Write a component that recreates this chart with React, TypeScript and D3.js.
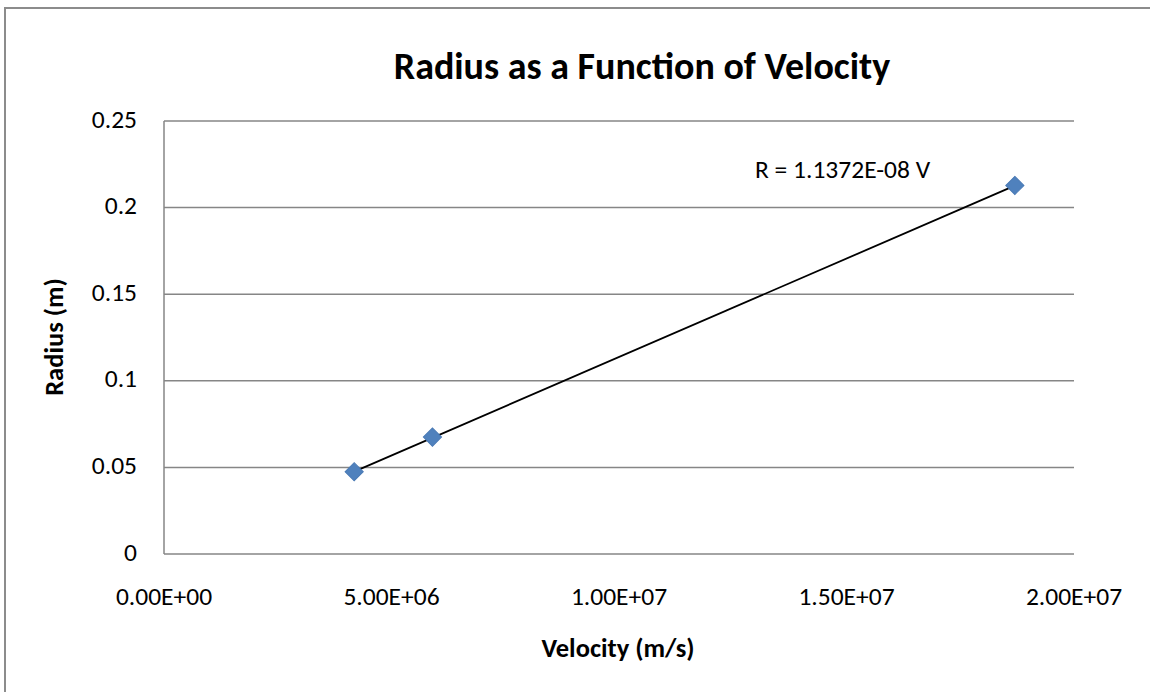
import React from "react";
import * as d3 from "d3";

const velocities = [4.18e6, 5.9e6, 1.87e7];
const radii = [0.0475, 0.0675, 0.2128];
const xTicks = [0, 5e6, 1e7, 1.5e7, 2e7];
const yTicks = [0, 0.05, 0.1, 0.15, 0.2, 0.25];
const slope = 1.1372e-8;
const title = "Radius as a Function of Velocity";
const xLabel = "Velocity (m/s)";
const yLabel = "Radius (m)";
const trendLabel = "R = 1.1372E-08 V";

const W = 1150, H = 692;
const font = "Carlito, Calibri, 'Open Sans', 'Liberation Sans', sans-serif";

export default function App() {
  const x = d3.scaleLinear().domain([0, 2e7]).range([164, 1074]);
  const y = d3.scaleLinear().domain([0, 0.25]).range([554, 121]);
  const fmtX = (v: number) => {
    const s = v.toExponential(2).toUpperCase();
    const m = s.match(/^(.*)E([+-])(\d+)$/);
    if (!m) return s;
    return `${m[1]}E${m[2]}${m[3].padStart(2, "0")}`;
  };
  const fmtY = (v: number) => d3.format("~g")(v);
  const xMin = d3.min(velocities)!, xMax = d3.max(velocities)!;
  const line = d3.line<number>().x((v) => x(v)).y((v) => y(slope * v));
  const marker = d3.symbol().type(d3.symbolSquare).size(165)();
  return (
    <svg width={W} height={H} style={{ position: "absolute", left: 0, top: 0 }} fontFamily={font}>
      <rect x={0} y={0} width={W} height={H} fill="#fff" />
      <rect x={5} y={8} width={W} height={H} fill="none" stroke="#8c8c8c" strokeWidth={2} />
      <text x={642} y={79} textAnchor="middle" fontSize={38} fontWeight="bold" fill="#000">{title}</text>
      {yTicks.map((t) => (
        <g key={"y" + t}>
          {t > 0 && <line x1={164} x2={1074} y1={y(t)} y2={y(t)} stroke="#868686" strokeWidth={1.5} />}
          <text x={137} y={y(t) + 6.5} textAnchor="end" fontSize={25.5} fill="#000">{fmtY(t)}</text>
        </g>
      ))}
      <line x1={164} x2={164} y1={121} y2={554} stroke="#868686" strokeWidth={1.5} />
      <line x1={164} x2={1074} y1={554} y2={554} stroke="#868686" strokeWidth={1.5} />
      {xTicks.map((t) => (
        <text key={"x" + t} x={x(t)} y={605} textAnchor="middle" fontSize={25.5} fill="#000">{fmtX(t)}</text>
      ))}
      <path d={line([xMin, xMax]) || ""} stroke="#000" strokeWidth={1.8} fill="none" />
      {velocities.map((v, i) => (
        <path key={i} d={marker || ""} transform={`translate(${x(v)},${y(radii[i])}) rotate(45)`} fill="#4f81bd" stroke="#4a7ab5" strokeWidth={1} />
      ))}
      <text x={755} y={178} fontSize={25.5} fill="#000">{trendLabel}</text>
      <text x={618} y={657} textAnchor="middle" fontSize={26.5} fontWeight="bold" fill="#000">{xLabel}</text>
      <text transform={`translate(63,337) rotate(-90)`} textAnchor="middle" fontSize={26.5} fontWeight="bold" fill="#000">{yLabel}</text>
    </svg>
  );
}
